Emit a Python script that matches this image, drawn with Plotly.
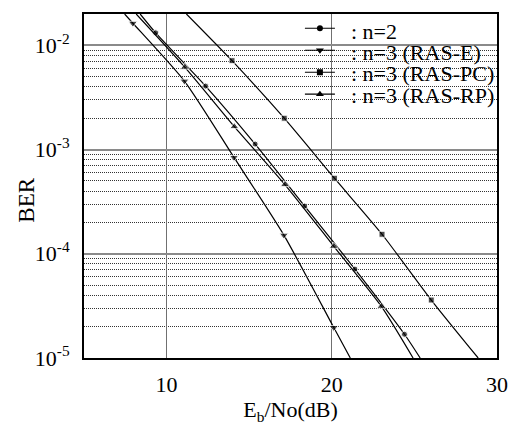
import math
import plotly.graph_objects as go

# ---- data (Eb/No in dB, BER) ----
n2_x = [9.34, 12.36, 15.36, 18.36, 21.40, 24.40]
n2_y = [1.32e-2, 4.07e-3, 1.13e-3, 2.87e-4, 7.13e-5, 1.69e-5]
n2_ends_x = [8.40, 25.35]

rase_x = [7.96, 11.08, 14.08, 17.10, 20.12]
rase_y = [1.63e-2, 4.54e-3, 8.41e-4, 1.51e-4, 1.96e-5]
rase_ends_x = [7.46, 21.12]

raspc_x = [13.96, 17.12, 20.16, 23.04, 26.02]
raspc_y = [7.13e-3, 2.0e-3, 5.31e-4, 1.54e-4, 3.6e-5]
raspc_ends_x = [11.20, 28.86]

rasrp_x = [11.10, 14.10, 17.16, 20.12, 23.00]
rasrp_y = [6.18e-3, 1.66e-3, 4.61e-4, 1.18e-4, 3.13e-5]
rasrp_ends_x = [8.16, 24.92]

ends_y = [2.0e-2, 1.0e-5]   # curves run from the top edge to the bottom edge

names = [": n=2", ": n=3 (RAS-E)", ": n=3 (RAS-PC)", ": n=3 (RAS-RP)"]

x_tickvals = [10, 20, 30]
x_ticktext = ["10", "20", "30"]
y_tickvals = [1e-5, 1e-4, 1e-3, 1e-2]
y_ticktext = ["10<sup>-5</sup>", "10<sup>-4</sup>", "10<sup>-3</sup>", "10<sup>-2</sup>"]
y_minor = [m * d for d in (1e-5, 1e-4, 1e-3) for m in range(2, 10)]

FONT = "Liberation Serif"

series = [
    (n2_x, n2_y, n2_ends_x, "circle", 6, 6),
    (rase_x, rase_y, rase_ends_x, "triangle-down", 8, 7),
    (raspc_x, raspc_y, raspc_ends_x, "square", 6, 6),
    (rasrp_x, rasrp_y, rasrp_ends_x, "triangle-up", 8, 7),
]

fig = go.Figure()
for (xs, ys, ex, sym, ms, lms), name in zip(series, names):
    x = [ex[0]] + xs + [ex[1]]
    y = [ends_y[0]] + ys + [ends_y[1]]
    sizes = [0] + [ms] * len(xs) + [0]
    fig.add_trace(go.Scatter(
        x=x, y=y, mode="lines+markers", showlegend=False,
        line=dict(color="black", width=1.2, shape="spline", smoothing=0.6),
        marker=dict(symbol=sym, size=sizes, color="black"),
        hoverinfo="skip",
    ))
    # legend entry (symbol only; its label is drawn as an annotation)
    fig.add_trace(go.Scatter(
        x=[None], y=[None], mode="lines+markers", name=" ",
        line=dict(color="black", width=1.2),
        marker=dict(symbol=sym, size=lms, color="black"),
    ))

# legend labels
row_px = [29.5, 51.5, 73.5, 95.5]
for name, ypx in zip(names, row_px):
    fig.add_annotation(
        x=(352 - 84) / 417, y=1 - (ypx - 12) / 353, xref="paper", yref="paper",
        text=name, showarrow=False, xanchor="left", yanchor="middle",
        font=dict(family=FONT, size=22, color="black"),
    )

fig.add_annotation(
    x=(26 - 84) / 417, y=1 - (203 - 12) / 353, xref="paper", yref="paper",
    text="BER", textangle=-90, showarrow=False, xanchor="center", yanchor="middle",
    font=dict(family=FONT, size=23, color="black"),
)

fig.update_layout(
    width=520, height=429,
    margin=dict(l=84, r=19, t=12, b=64),
    paper_bgcolor="white", plot_bgcolor="white",
    font=dict(family=FONT, size=22, color="black"),
    showlegend=True,
    legend=dict(
        x=(302 - 84) / 417, y=1.005, xanchor="left", yanchor="top",
        bgcolor="rgba(0,0,0,0)", borderwidth=0,
        font=dict(family=FONT, size=14.6, color="black"),
        tracegroupgap=0,
    ),
)

fig.update_xaxes(
    range=[5, 30], tickvals=x_tickvals, ticktext=x_ticktext,
    showgrid=True, gridcolor="#707070", gridwidth=1,
    showline=True, mirror=True, linecolor="black", linewidth=2,
    ticks="", zeroline=False, ticklabelstandoff=6,
    tickfont=dict(family=FONT, size=22),
    title=dict(text="E<sub>b</sub>/No(dB)", font=dict(family=FONT, size=22), standoff=4),
)

fig.update_yaxes(
    type="log", range=[-5, math.log10(0.02)],
    tickvals=y_tickvals, ticktext=y_ticktext,
    showgrid=True, gridcolor="#8a8a8a", gridwidth=2,
    showline=True, mirror=True, linecolor="black", linewidth=2,
    ticks="", zeroline=False, ticklabelstandoff=8,
    tickfont=dict(family=FONT, size=22),
    minor=dict(tickvals=y_minor, showgrid=True, griddash="1px,1px",
               gridcolor="#333333", gridwidth=1, ticks=""),
)

fig.write_html("out.html")
